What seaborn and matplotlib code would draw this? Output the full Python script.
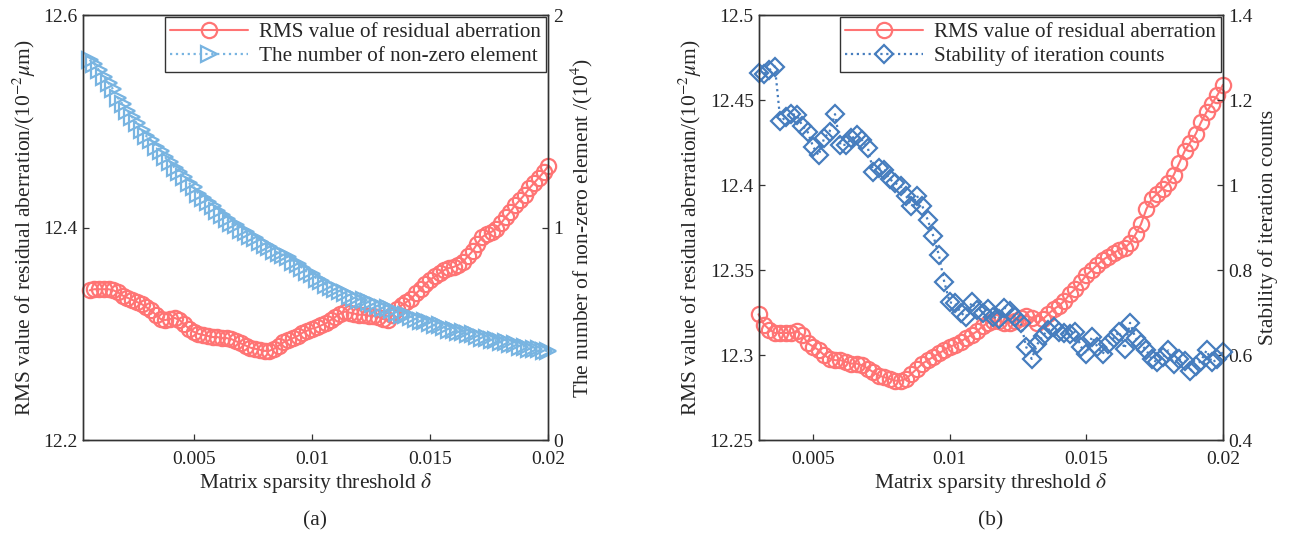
import numpy as np
import pandas as pd
import seaborn as sns
import matplotlib
matplotlib.use("Agg")
import matplotlib.pyplot as plt
from matplotlib.ticker import FuncFormatter, FixedLocator

# ---------------- data ----------------
# panel (a): threshold delta in units of 1e-4
delta_a = [6, 8, 10, 12, 14, 16, 18, 20, 22, 24, 26, 28, 30, 32, 34, 36, 38, 40, 42, 44,
           46, 48, 50, 52, 54, 56, 58, 60, 62, 64, 66, 68, 70, 72, 74, 76, 78, 80, 82, 84,
           86, 88, 90, 92, 94, 96, 98, 100, 102, 104, 106, 108, 110, 112, 114, 116, 118, 120,
           122, 124, 126, 128, 130, 132, 134, 136, 138, 140, 142, 144, 146, 148, 150, 152,
           154, 156, 158, 160, 162, 164, 166, 168, 170, 172, 174, 176, 178, 180, 182, 184,
           186, 188, 190, 192, 194, 196, 198, 200]
rms_a = [12.341, 12.342, 12.342, 12.342, 12.342, 12.341, 12.339, 12.336, 12.334, 12.332,
         12.330, 12.328, 12.325, 12.322, 12.318, 12.314, 12.313, 12.314, 12.315, 12.313,
         12.309, 12.305, 12.302, 12.300, 12.299, 12.298, 12.297, 12.297, 12.296, 12.296,
         12.295, 12.293, 12.291, 12.289, 12.287, 12.286, 12.285, 12.284, 12.284, 12.286,
         12.289, 12.292, 12.294, 12.296, 12.298, 12.301, 12.303, 12.305, 12.306, 12.308,
         12.310, 12.313, 12.316, 12.319, 12.321, 12.320, 12.319, 12.318, 12.318, 12.317,
         12.317, 12.316, 12.314, 12.313, 12.318, 12.323, 12.327, 12.330, 12.333, 12.338,
         12.342, 12.347, 12.351, 12.354, 12.357, 12.360, 12.362, 12.363, 12.365, 12.368,
         12.373, 12.378, 12.385, 12.391, 12.394, 12.396, 12.399, 12.404, 12.410, 12.415,
         12.421, 12.426, 12.431, 12.437, 12.442, 12.447, 12.452, 12.458]
nonzero_a = [1.79, 1.77, 1.74, 1.71, 1.68, 1.65, 1.61, 1.58, 1.55, 1.52, 1.49, 1.46, 1.43,
             1.41, 1.38, 1.36, 1.33, 1.31, 1.28, 1.26, 1.24, 1.21, 1.19, 1.16, 1.14, 1.12,
             1.10, 1.08, 1.06, 1.04, 1.02, 1.01, 0.99, 0.98, 0.96, 0.95, 0.93, 0.92, 0.91,
             0.89, 0.88, 0.87, 0.86, 0.84, 0.83, 0.81, 0.79, 0.78, 0.76, 0.75, 0.73, 0.72,
             0.71, 0.70, 0.69, 0.68, 0.67, 0.66, 0.66, 0.65, 0.64, 0.63, 0.62, 0.62, 0.61,
             0.60, 0.59, 0.59, 0.58, 0.57, 0.56, 0.56, 0.55, 0.54, 0.54, 0.53, 0.52, 0.52,
             0.51, 0.51, 0.50, 0.50, 0.49, 0.48, 0.48, 0.47, 0.47, 0.46, 0.46, 0.45, 0.45,
             0.44, 0.44, 0.43, 0.43, 0.43, 0.42, 0.42]

# panel (b)
delta_b = [30, 32, 34, 36, 38, 40, 42, 44, 46, 48, 50, 52, 54, 56, 58, 60, 62, 64, 66, 68,
           70, 72, 74, 76, 78, 80, 82, 84, 86, 88, 90, 92, 94, 96, 98, 100, 102, 104, 106,
           108, 110, 112, 114, 116, 118, 120, 122, 124, 126, 128, 130, 132, 134, 136, 138,
           140, 142, 144, 146, 148, 150, 152, 154, 156, 158, 160, 162, 164, 166, 168, 170,
           172, 174, 176, 178, 180, 182, 184, 186, 188, 190, 192, 194, 196, 198, 200]
rms_b = [12.324, 12.318, 12.315, 12.313, 12.313, 12.313, 12.313, 12.314, 12.312, 12.307,
         12.305, 12.303, 12.300, 12.298, 12.297, 12.297, 12.296, 12.295, 12.295, 12.294,
         12.292, 12.290, 12.288, 12.287, 12.286, 12.285, 12.285, 12.286, 12.289, 12.292,
         12.295, 12.297, 12.299, 12.301, 12.303, 12.305, 12.306, 12.308, 12.310, 12.312,
         12.314, 12.317, 12.319, 12.320, 12.320, 12.319, 12.319, 12.320, 12.322, 12.323,
         12.322, 12.319, 12.321, 12.324, 12.327, 12.329, 12.332, 12.336, 12.339, 12.343,
         12.347, 12.350, 12.353, 12.356, 12.358, 12.360, 12.362, 12.363, 12.366, 12.371,
         12.377, 12.386, 12.392, 12.395, 12.398, 12.401, 12.406, 12.413, 12.420, 12.425,
         12.430, 12.437, 12.443, 12.448, 12.453, 12.459]
stability_b = [1.263, 1.262, 1.271, 1.279, 1.150, 1.160, 1.167, 1.165, 1.140, 1.125, 1.090,
               1.070, 1.110, 1.126, 1.167, 1.094, 1.095, 1.110, 1.118, 1.105, 1.088, 1.032,
               1.040, 1.035, 1.014, 1.005, 0.998, 0.975, 0.950, 0.975, 0.950, 0.917, 0.880,
               0.836, 0.772, 0.724, 0.722, 0.700, 0.690, 0.724, 0.705, 0.700, 0.708, 0.690,
               0.685, 0.712, 0.703, 0.690, 0.676, 0.619, 0.591, 0.625, 0.645, 0.659, 0.667,
               0.655, 0.651, 0.650, 0.655, 0.620, 0.603, 0.643, 0.620, 0.603, 0.625, 0.640,
               0.655, 0.615, 0.676, 0.640, 0.625, 0.611, 0.590, 0.583, 0.595, 0.611, 0.579,
               0.590, 0.587, 0.563, 0.575, 0.587, 0.611, 0.583, 0.590, 0.607]

assert len(delta_a) == len(rms_a) == len(nonzero_a)
assert len(delta_b) == len(rms_b) == len(stability_b)

df_a = pd.DataFrame({"delta": np.array(delta_a) * 1e-4, "rms": rms_a, "nnz": nonzero_a})
df_b = pd.DataFrame({"delta": np.array(delta_b) * 1e-4, "rms": rms_b, "stab": stability_b})

# ---------------- style ----------------
sns.set_style("ticks")
plt.rcParams["font.family"] = ["Liberation Serif", "DejaVu Serif"]
plt.rcParams["mathtext.fontset"] = "stix"
plt.rcParams["xtick.direction"] = "in"
plt.rcParams["ytick.direction"] = "in"

RED = "#FF7474"
LBLUE = "#78B4E1"
DBLUE = "#467DBE"
AXC = "#333333"
FS_LABEL = 15.5
FS_TICK = 14
FS_LEG = 15.2

fig = plt.figure(figsize=(12.9, 5.4), dpi=100)
ax_a = fig.add_axes([0.064, 0.185, 0.361, 0.787])
ax_b = fig.add_axes([0.588, 0.185, 0.360, 0.787])

fmt = FuncFormatter(lambda v, p: "%g" % v)


def style_axes(ax, ax2):
    for a in (ax, ax2):
        for s in a.spines.values():
            s.set_linewidth(1.0)
            s.set_color(AXC)
    ax.tick_params(axis="both", labelsize=FS_TICK, length=4, width=0.9, right=False, top=False,
                   color=AXC, labelcolor="#222222")
    ax.tick_params(axis="x", pad=8)
    ax2.tick_params(axis="y", labelsize=FS_TICK, length=4, width=0.9, left=False, right=True,
                    color=AXC, labelcolor="#222222")
    ax.xaxis.set_major_formatter(fmt)
    ax.yaxis.set_major_formatter(fmt)
    ax2.yaxis.set_major_formatter(fmt)


def add_legend(ax, ax2):
    h1, l1 = ax.get_legend_handles_labels()
    h2, l2 = ax2.get_legend_handles_labels()
    leg = ax2.legend(h1 + h2, l1 + l2, loc="upper right", fontsize=FS_LEG, frameon=True,
                     fancybox=False, edgecolor=AXC, framealpha=1, handlelength=3.7,
                     handletextpad=0.5, borderpad=0.25, labelspacing=0.2, borderaxespad=0.1)
    leg.get_frame().set_linewidth(1.0)


# ---------------- panel (a) ----------------
ax_a2 = ax_a.twinx()
sns.lineplot(data=df_a, x="delta", y="rms", ax=ax_a, color=RED, linestyle="-", lw=1.5,
             marker="o", markersize=11, markerfacecolor="none", markeredgecolor=RED,
             markeredgewidth=1.6, sort=False, clip_on=False, label="RMS value of residual aberration",
             legend=False)
sns.lineplot(data=df_a, x="delta", y="nnz", ax=ax_a2, color=LBLUE, linestyle=":", lw=1.6,
             marker=">", markersize=11, markerfacecolor="none", markeredgecolor=LBLUE,
             markeredgewidth=1.6, sort=False, clip_on=False, label="The number of non-zero element",
             legend=False)
ax_a.set_xlim(0.0003, 0.02)
ax_a.set_ylim(12.2, 12.6)
ax_a2.set_ylim(0, 2)
ax_a.xaxis.set_major_locator(FixedLocator([0.005, 0.01, 0.015, 0.02]))
ax_a.yaxis.set_major_locator(FixedLocator([12.2, 12.4, 12.6]))
ax_a2.yaxis.set_major_locator(FixedLocator([0, 1, 2]))
ax_a.set_xlabel(r"Matrix sparsity threshold $\delta$", fontsize=FS_LABEL, labelpad=2)
ax_a.set_ylabel(r"RMS value of residual aberration/(10$^{-2}\mu$m)", fontsize=FS_LABEL)
ax_a2.set_ylabel(r"The number of non-zero element /(10$^{4}$)", fontsize=FS_LABEL)
style_axes(ax_a, ax_a2)
add_legend(ax_a, ax_a2)
fig.text(0.064 + 0.361 / 2, 0.035, "(a)", ha="center", va="center", fontsize=FS_LABEL)

# ---------------- panel (b) ----------------
ax_b2 = ax_b.twinx()
sns.lineplot(data=df_b, x="delta", y="rms", ax=ax_b, color=RED, linestyle="-", lw=1.5,
             marker="o", markersize=11, markerfacecolor="none", markeredgecolor=RED,
             markeredgewidth=1.6, sort=False, clip_on=False, label="RMS value of residual aberration",
             legend=False)
sns.lineplot(data=df_b, x="delta", y="stab", ax=ax_b2, color=DBLUE, linestyle=":", lw=1.6,
             marker="D", markersize=9, markerfacecolor="none", markeredgecolor=DBLUE,
             markeredgewidth=1.6, sort=False, clip_on=False, label="Stability of iteration counts",
             legend=False)
ax_b.set_xlim(0.003, 0.02)
ax_b.set_ylim(12.25, 12.5)
ax_b2.set_ylim(0.4, 1.4)
ax_b.xaxis.set_major_locator(FixedLocator([0.005, 0.01, 0.015, 0.02]))
ax_b.yaxis.set_major_locator(FixedLocator([12.25, 12.3, 12.35, 12.4, 12.45, 12.5]))
ax_b2.yaxis.set_major_locator(FixedLocator([0.4, 0.6, 0.8, 1.0, 1.2, 1.4]))
ax_b.set_xlabel(r"Matrix sparsity threshold $\delta$", fontsize=FS_LABEL, labelpad=2)
ax_b.set_ylabel(r"RMS value of residual aberration/(10$^{-2}\mu$m)", fontsize=FS_LABEL)
ax_b2.set_ylabel("Stability of iteration counts", fontsize=FS_LABEL)
style_axes(ax_b, ax_b2)
add_legend(ax_b, ax_b2)
fig.text(0.588 + 0.360 / 2, 0.035, "(b)", ha="center", va="center", fontsize=FS_LABEL)

fig.savefig("out.png", dpi=100, facecolor="white")
